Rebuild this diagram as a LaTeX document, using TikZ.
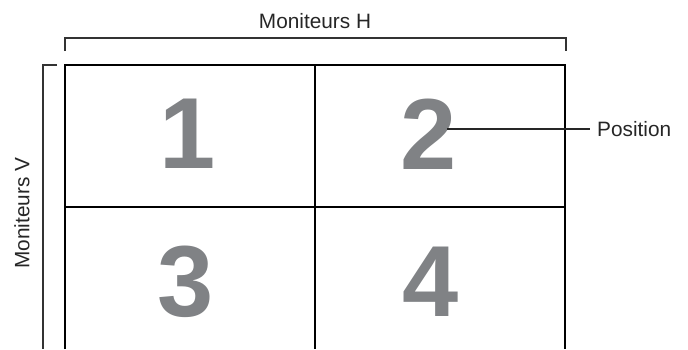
\documentclass[tikz,border=0pt]{standalone}
\usepackage{fontspec}
\setmainfont{Liberation Sans}
\usetikzlibrary{positioning}
\definecolor{digitgray}{HTML}{808285}
\definecolor{bracketgray}{HTML}{333333}

\begin{document}
\begin{tikzpicture}[
    x=1pt, y=-1pt,
    wall/.style={black, line width=2.5pt},
    brace/.style={bracketgray, line width=1.2pt},
    lbl/.style={font=\fontsize{20.8}{24}\selectfont, text=black!85, inner sep=0pt},
    digit/.style={font=\fontsize{101}{101}\selectfont\bfseries, text=digitgray, inner sep=0pt},
    leader/.style={black!85, line width=1.2pt}]
  \useasboundingbox (0,0) rectangle (688,349);

  % Brackets for the number of monitors each way.
  \draw[brace] (65,51) -- (65,38) -- (566,38) -- (566,51);
  \draw[brace] (57,65) -- (43,65) -- (43,349);
  \node[lbl] (mh) at (315,21) {Moniteurs H};
  \node[lbl, rotate=90] (mv) at (22,213) {Moniteurs V};

  % The video wall, two by two, cut at the bottom.
  \draw[wall] (65,349) -- (65,65) -- (565,65) -- (565,349);
  \draw[wall] (315,65) -- (315,349);
  \draw[wall] (65,207) -- (565,207);

  \foreach \n/\x/\y in {1/188/134, 2/429/134, 3/186/282, 4/431/282}
    \node[digit] (n\n) at (\x,\y) {\n};

  % Leader to the position label.
  \node[lbl, anchor=west] (pos) at (597,129) {Position};
  \draw[leader] ([xshift=-10pt]n2.east |- pos.west) -- ([xshift=-7pt]pos.west);
\end{tikzpicture}
\end{document}
